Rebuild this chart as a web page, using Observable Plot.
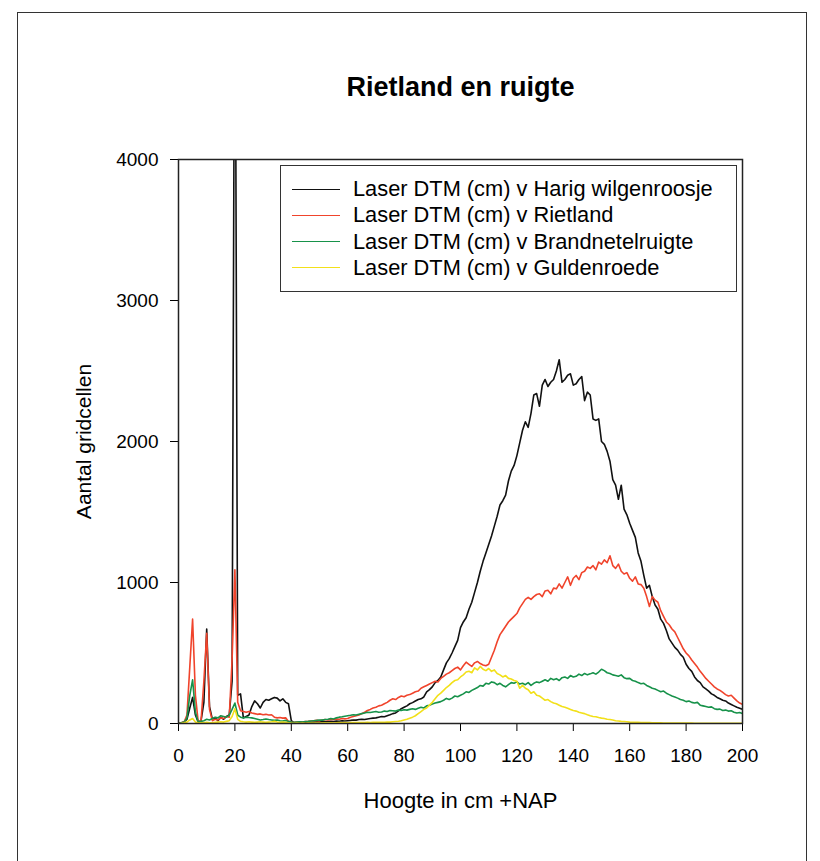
<!DOCTYPE html>
<html>
<head>
<meta charset="utf-8">
<script src="https://cdn.jsdelivr.net/npm/d3@7"></script>
<script src="https://cdn.jsdelivr.net/npm/@observablehq/plot@0.6"></script>
<style>
  html, body { margin: 0; padding: 0; background: #fff; }
  #page { position: relative; width: 820px; height: 861px; overflow: hidden; background: #fff; font-family: "Liberation Sans", Arial, sans-serif; }
  #border { position: absolute; left: 17px; top: 12px; width: 790px; height: 920px; border: 1.5px solid #333; box-sizing: border-box; }
  #chart { position: absolute; left: 0; top: 0; }
  #legend { position: absolute; left: 280px; top: 165px; width: 457px; height: 127px; border: 1.5px solid #333; box-sizing: border-box; background: #fff; }
  .row { position: absolute; left: 0; height: 26px; display: flex; align-items: center; font-size: 21.8px; color: #000; white-space: nowrap; }
  .sw { width: 48px; height: 0; border-top: 1.2px solid; margin-left: 11px; margin-right: 13px; }
</style>
</head>
<body>
<div id="page">
  <div id="border"></div>
  <div id="chart"></div>
  <div id="legend"></div>
</div>
<script>
// ---- data ----
const title = "Rietland en ruigte";
const xLabel = "Hoogte in cm +NAP";
const yLabel = "Aantal gridcellen";
const xTicks = [0, 20, 40, 60, 80, 100, 120, 140, 160, 180, 200];
const yTicks = [0, 1000, 2000, 3000, 4000];
const seriesNames = [
  "Laser DTM (cm) v Harig wilgenroosje",
  "Laser DTM (cm) v Rietland",
  "Laser DTM (cm) v Brandnetelruigte",
  "Laser DTM (cm) v Guldenroede"
];
const seriesColors = ["#111111", "#f0442c", "#17924a", "#f2e01a"];

// height in cm +NAP (1 cm classes)
const hoogte = d3.range(0, 201);

const harig = [
  0,5,10,30,110,185,60,10,20,150,
  670,120,30,40,20,45,30,50,60,300,
  6000,200,210,40,50,60,120,160,140,110,
  150,170,165,175,185,180,160,175,150,140,
  20,5,3,5,8,5,10,8,10,12,
  10,15,12,14,16,14,18,16,20,18,
  20,22,25,24,28,30,28,32,35,38,
  40,45,50,48,55,62,70,75,90,105,
  115,125,140,148,160,170,175,188,225,240,
  260,290,305,330,380,430,460,500,545,590,
  680,720,750,810,860,930,1000,1080,1150,1210,
  1270,1330,1400,1470,1550,1580,1620,1720,1790,1830,
  1900,1990,2080,2140,2100,2200,2330,2340,2250,2400,
  2440,2390,2420,2440,2500,2580,2420,2440,2470,2480,
  2400,2410,2440,2460,2290,2350,2330,2160,2150,2160,
  2000,1980,1930,1860,1730,1690,1590,1690,1520,1480,
  1420,1370,1320,1210,1150,1050,960,980,900,840,
  810,740,710,660,600,570,540,520,490,470,
  420,390,370,330,305,290,260,245,230,210,
  200,185,175,165,160,145,135,125,115,108,
  100
];

const rietland = [
  0,5,10,60,400,740,200,10,20,300,
  640,100,20,30,25,40,35,50,45,450,
  1090,150,90,85,80,85,75,70,65,68,
  62,65,60,62,45,40,42,38,40,15,
  10,8,10,12,10,14,15,18,20,22,
  20,25,28,25,30,28,32,30,35,33,
  36,45,50,55,60,70,80,92,100,110,
  115,125,130,140,150,165,175,170,185,195,
  190,200,205,215,225,230,250,260,270,280,
  290,300,295,320,335,350,360,375,390,400,
  380,410,435,420,405,430,440,425,415,410,
  420,470,520,580,630,660,690,720,740,760,
  780,820,850,880,895,880,900,915,920,900,
  940,945,920,960,955,990,960,1000,1040,980,
  1030,1050,1020,1070,1080,1110,1100,1120,1090,1145,
  1130,1160,1140,1190,1120,1100,1130,1080,1060,1070,
  1030,1010,1040,990,985,960,900,830,900,875,
  860,800,760,720,700,670,650,610,570,530,
  500,480,450,425,400,370,345,320,300,280,
  260,245,235,220,205,195,200,180,160,145,
  135
];

const brandnetel = [
  0,5,10,40,200,310,80,10,15,20,
  30,25,35,45,40,55,50,45,60,100,
  145,60,45,40,45,42,40,35,30,25,
  28,32,28,25,22,25,20,18,22,15,
  10,8,10,12,10,14,15,18,20,22,
  25,24,28,30,35,32,40,45,48,52,
  55,58,62,60,65,70,75,80,78,82,
  85,80,82,88,85,92,90,88,95,92,
  98,95,100,104,100,108,115,110,125,130,
  138,145,150,155,165,178,170,180,195,190,
  200,210,225,220,235,245,255,270,265,285,
  280,295,290,275,285,270,260,275,290,285,
  295,280,285,275,290,270,285,295,290,300,
  310,300,320,310,318,305,325,330,320,340,
  330,335,350,340,355,345,352,360,350,365,
  385,375,360,355,345,340,335,345,325,318,
  320,305,300,290,282,285,270,260,250,245,
  235,225,230,215,205,195,188,180,170,165,
  155,160,150,145,150,130,125,120,115,118,
  105,100,102,92,95,88,90,80,75,78,
  70
];

const guldenroede = [
  0,2,5,10,25,35,10,3,5,5,
  8,5,5,8,10,12,10,15,20,50,
  105,30,15,12,10,12,10,8,10,12,
  10,8,10,12,15,10,8,10,8,5,
  3,2,3,2,3,2,3,4,3,4,
  3,4,5,4,5,4,5,6,5,6,
  5,6,7,6,7,6,7,8,7,8,
  8,9,8,9,10,10,12,14,16,20,
  25,30,38,45,55,70,85,100,110,130,
  150,175,200,215,235,255,270,290,305,310,
  330,345,365,370,360,395,380,405,385,375,
  390,370,380,355,345,330,340,320,315,305,
  300,250,270,250,240,215,225,200,195,180,
  165,170,155,145,140,130,120,115,108,100,
  92,88,80,75,70,62,55,50,48,42,
  38,35,30,28,25,20,18,15,14,12,
  10,9,8,8,7,7,6,6,5,5,
  5,5,4,4,4,4,3,3,3,3,
  3,3,3,2,2,2,2,2,2,2,
  2,2,2,2,2,2,2,2,2,2,
  2
];

// ---- build table ----
const seriesValues = [harig, rietland, brandnetel, guldenroede];
const rows = [];
seriesValues.forEach((vals, si) => {
  vals.forEach((v, i) => rows.push({ hoogte: hoogte[i], aantal: v, serie: seriesNames[si] }));
});

const chart = Plot.plot({
  width: 820,
  height: 861,
  marginLeft: 178,
  marginRight: 78,
  marginTop: 159,
  marginBottom: 138,
  style: { fontFamily: "'Liberation Sans', Arial, sans-serif", fontSize: "19px", color: "#000", background: "transparent", overflow: "visible" },
  x: { domain: [0, 200], ticks: xTicks, tickSize: 8, tickPadding: 17, label: null, tickFormat: d3.format("d") },
  y: { domain: [0, 4000], ticks: yTicks, tickSize: 8, tickPadding: 12, label: null, tickFormat: d3.format("d") },
  color: { domain: seriesNames, range: seriesColors },
  marks: [
    Plot.lineY(rows, { x: "hoogte", y: "aantal", z: "serie", stroke: "serie", strokeWidth: 1.6, clip: true }),
    Plot.frame({ stroke: "#222", strokeWidth: 1.5 }),
    Plot.text([title], { frameAnchor: "top", dy: -72, fontSize: 27, fontWeight: "bold", fill: "#000", lineAnchor: "middle" }),
    Plot.text([xLabel], { frameAnchor: "bottom", dy: 77, fontSize: 22, fill: "#000", lineAnchor: "middle" }),
    Plot.text([yLabel], { frameAnchor: "left", dx: -94, rotate: -90, fontSize: 21, fill: "#000", textAnchor: "middle", lineAnchor: "middle" })
  ]
});
document.getElementById("chart").appendChild(chart);

// ---- legend ----
const legend = document.getElementById("legend");
seriesNames.forEach((name, i) => {
  const row = document.createElement("div");
  row.className = "row";
  row.style.top = (10 + i * 26.3) + "px";
  const sw = document.createElement("div");
  sw.className = "sw";
  sw.style.borderTopColor = seriesColors[i];
  const tx = document.createElement("span");
  tx.textContent = name;
  row.appendChild(sw);
  row.appendChild(tx);
  legend.appendChild(row);
});
</script>
</body>
</html>
